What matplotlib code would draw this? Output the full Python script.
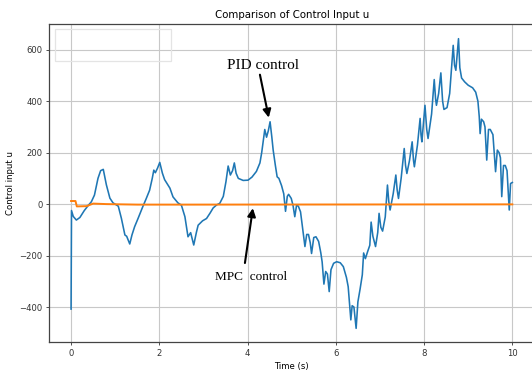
import matplotlib
matplotlib.use("Agg")
import matplotlib.pyplot as plt
from matplotlib.patches import Rectangle

# PID control input
pid_t = [0.00, 0.01, 0.05, 0.12, 0.20, 0.30, 0.40, 0.46, 0.53, 0.61, 0.67, 0.73, 0.80, 0.88,
         0.95, 1.07, 1.14, 1.22, 1.26, 1.33, 1.38, 1.44, 1.52, 1.63, 1.70, 1.78, 1.84, 1.875,
         1.91, 1.96, 2.01, 2.07, 2.12, 2.24, 2.31, 2.42, 2.50, 2.58, 2.65, 2.71, 2.78, 2.84,
         2.88, 2.98, 3.07, 3.15, 3.22, 3.30, 3.37, 3.45, 3.51, 3.56, 3.61, 3.66, 3.70, 3.74,
         3.79, 3.90, 4.01, 4.10, 4.20, 4.28, 4.32, 4.39, 4.43, 4.47, 4.51, 4.55, 4.58, 4.63,
         4.67, 4.71, 4.77, 4.82, 4.86, 4.90, 4.93, 4.99, 5.03, 5.07, 5.11, 5.15, 5.20, 5.26,
         5.30, 5.34, 5.38, 5.42, 5.45, 5.50, 5.55, 5.61, 5.66, 5.69, 5.73, 5.77, 5.81, 5.85,
         5.89, 5.95, 6.02, 6.10, 6.17, 6.24, 6.28, 6.34, 6.37, 6.41, 6.46, 6.50, 6.55, 6.60,
         6.63, 6.67, 6.72, 6.77, 6.80, 6.84, 6.90, 6.95, 6.98, 7.02, 7.06, 7.12, 7.17, 7.20,
         7.23, 7.30, 7.36, 7.39, 7.42, 7.48, 7.55, 7.58, 7.61, 7.67, 7.73, 7.76, 7.78, 7.85,
         7.91, 7.93, 7.95, 8.02, 8.06, 8.09, 8.17, 8.23, 8.26, 8.28, 8.33, 8.38, 8.42, 8.45,
         8.52, 8.58, 8.66, 8.69, 8.72, 8.78, 8.81, 8.85, 8.92, 9.00, 9.10, 9.17, 9.22, 9.25,
         9.27, 9.30, 9.35, 9.38, 9.42, 9.46, 9.50, 9.56, 9.62, 9.66, 9.70, 9.73, 9.76, 9.80,
         9.84, 9.88, 9.93, 9.96, 10.00]
pid_u = [-408, -25, -48, -62, -52, -25, -3, 9, 35, 100, 130, 135, 75, 23,
         5, -8, -55, -120, -125, -155, -120, -88, -55, -8, 20, 54, 100, 132,
         122, 140, 162, 120, 95, 62, 28, 5, -4, -49, -127, -111, -159, -110,
         -82, -65, -56, -35, -15, -3, 3, 30, 87, 148, 113, 130, 160, 120,
         100, 92, 93, 105, 127, 160, 200, 290, 260, 285, 320, 260, 210, 150,
         106, 100, 72, 40, -28, 30, 38, 22, -5, -49, -5, -8, -30, -110,
         -165, -118, -118, -150, -192, -130, -127, -145, -190, -225, -311, -262, -272, -340,
         -255, -230, -224, -228, -243, -285, -321, -450, -395, -400, -483, -380, -330, -275,
         -190, -212, -185, -160, -70, -125, -165, -110, -36, -90, -105, -50, 74, 10,
         -23, 40, 113, 55, 22, 100, 216, 150, 119, 170, 242, 170, 145, 230,
         333, 270, 242, 384, 290, 255, 350, 484, 410, 384, 430, 510, 400, 368,
         375, 430, 617, 540, 520, 643, 530, 490, 475, 462, 452, 435, 400, 340,
         274, 330, 320, 300, 171, 290, 290, 270, 126, 210, 200, 180, 29, 150,
         150, 130, -23, 80, 84]

# MPC control input
mpc_t = [0.00, 0.10, 0.13, 0.35, 0.50, 0.80, 1.50, 2.80, 10.00]
mpc_u = [12, 12, -9, -8, 2, 0, -2, -2, -1]

title = "Comparison of Control Input u"
xlabel = "Time (s)"
ylabel = "Control input u"

fig = plt.figure(figsize=(5.32, 3.76), dpi=100)
ax = fig.add_axes([49/532, 34/376, 485.4/532, 318/376])

ax.plot(pid_t, pid_u, color="#1f77b4", lw=1.15, zorder=3)
ax.plot(mpc_t, mpc_u, color="#ff7f0e", lw=1.4, zorder=4)

ax.set_xlim(-0.5, 10.5)
ax.set_ylim(-536, 700)
ax.set_xticks([0, 2, 4, 6, 8, 10])
ax.set_yticks([-400, -200, 0, 200, 400, 600])
ax.set_yticklabels(["\u2212400", "\u2212200", "0", "200", "400", "600"])
ax.grid(True, color="#c8c8c8", lw=0.8)
ax.set_axisbelow(True)
ax.tick_params(labelsize=6.1, length=2.2, width=0.6, pad=2.5, colors="#333333")
for s in ax.spines.values():
    s.set_color("#444444")
    s.set_linewidth(0.9)

ax.set_title(title, fontsize=7.4, pad=4)
ax.set_xlabel(xlabel, fontsize=6.1, labelpad=3)
ax.set_ylabel(ylabel, fontsize=6.1, labelpad=3)

# faint empty legend-like box
ax.add_patch(Rectangle((0.012, 0.884), 0.239, 0.10, transform=ax.transAxes,
                       fill=False, edgecolor="#e4e4e4", lw=0.9, zorder=2))

# annotations
ax.text(4.35, 537, "PID control", fontsize=11, family="Liberation Serif",
        ha="center", va="center")
ax.annotate("", xy=(4.48, 336), xytext=(4.28, 503),
            arrowprops=dict(arrowstyle="-|>", color="black", lw=1.5,
                            mutation_scale=12, shrinkA=0, shrinkB=0))
ax.text(4.09, -282, "MPC  control", fontsize=9.5, family="Liberation Serif",
        ha="center", va="center")
ax.annotate("", xy=(4.12, -16), xytext=(3.94, -229),
            arrowprops=dict(arrowstyle="-|>", color="black", lw=1.5,
                            mutation_scale=12, shrinkA=0, shrinkB=0))

fig.savefig("out.png", dpi=100)
